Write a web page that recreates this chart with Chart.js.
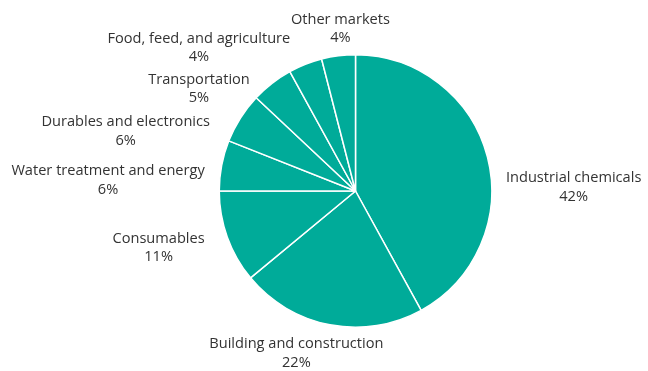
<!DOCTYPE html>
<html>
<head>
<meta charset="utf-8">
<script src="https://cdn.jsdelivr.net/npm/chart.js@4"></script>
<style>
  html, body { margin: 0; padding: 0; background: #fff; }
  #chart { display: block; }
</style>
</head>
<body>
<canvas id="chart" width="648" height="371"></canvas>
<script>
// market share by end use, clockwise from the top
const categories = [
    'Industrial chemicals',
    'Building and construction',
    'Consumables',
    'Water treatment and energy',
    'Durables and electronics',
    'Transportation',
    'Food, feed, and agriculture',
    'Other markets',
];
const shares = [42, 22, 11, 6, 6, 5, 4, 4];

// where each label sits relative to the outer middle of its slice
const labelPlacement = [
    { align: 'left', dx: 18.5, dy: 25 },
    { align: 'center', dx: -33.6, dy: 23.5 },
    { align: 'right', dx: -22.6, dy: 5.6 },
    { align: 'right', dx: -16.9, dy: 9.7 },
    { align: 'right', dx: -30.5, dy: 8.4 },
    { align: 'right', dx: -22.2, dy: 0.3 },
    { align: 'right', dx: -15.1, dy: -21.6 },
    { align: 'center', dx: 2, dy: -32 },
];

const TEAL = '#00ab99';
const TEXT = '#333333';
const FONT = '14.6px "Open Sans", "Noto Sans", sans-serif';
const LINE_GAP = 18.5;

const sliceLabels = {
    id: 'sliceLabels',
    afterDraw(chart) {
        const ctx = chart.ctx;
        const arcs = chart.getDatasetMeta(0).data;
        ctx.save();
        ctx.font = FONT;
        ctx.fillStyle = TEXT;
        ctx.textBaseline = 'alphabetic';
        ctx.textAlign = 'center';

        arcs.forEach((arc, i) => {
            const { x, y, startAngle, endAngle, outerRadius } = arc.getProps(
                ['x', 'y', 'startAngle', 'endAngle', 'outerRadius'], true);
            const mid = (startAngle + endAngle) / 2;
            const px = x + Math.cos(mid) * outerRadius;
            const py = y + Math.sin(mid) * outerRadius;

            const place = labelPlacement[i];
            const lines = [categories[i], shares[i] + '%'];
            const blockW = Math.max(...lines.map((t) => ctx.measureText(t).width));

            let cx = px + place.dx;
            if (place.align === 'left') cx += blockW / 2;
            if (place.align === 'right') cx -= blockW / 2;
            const baseY = py + place.dy;

            lines.forEach((t, k) => ctx.fillText(t, cx, baseY + k * LINE_GAP));
        });
        ctx.restore();
    },
};

new Chart(document.getElementById('chart'), {
    type: 'pie',
    data: {
        labels: categories,
        datasets: [{
            data: shares,
            backgroundColor: TEAL,
            borderColor: '#ffffff',
            borderWidth: 1.5,
        }],
    },
    options: {
        responsive: false,
        animation: false,
        layout: {
            padding: { top: 54, bottom: 43, left: 218.5, right: 155.5 },
        },
        plugins: {
            legend: { display: false },
            tooltip: { enabled: false },
        },
    },
    plugins: [sliceLabels],
});
</script>
</body>
</html>
